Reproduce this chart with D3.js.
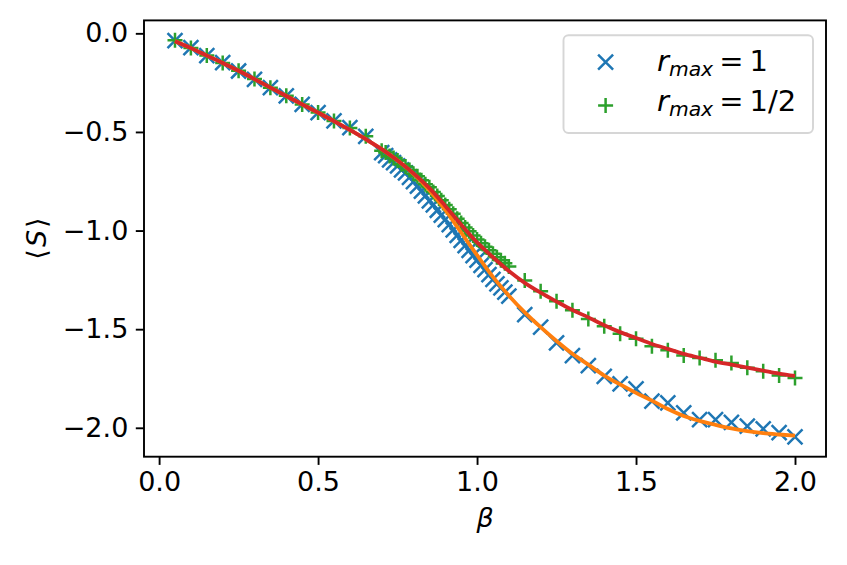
<!DOCTYPE html>
<html>
<head>
<meta charset="utf-8">
<script src="https://cdn.jsdelivr.net/npm/d3@7"></script>
<style>
  body { margin: 0; background: #fff; }
  svg { display: block; font-family: "DejaVu Sans", sans-serif; }
</style>
</head>
<body>
<svg id="chart" width="847" height="565"></svg>
<script>
// beta grid of the measured points
var betaLow = [0.05, 0.10, 0.15, 0.20, 0.25, 0.30, 0.35, 0.40, 0.45, 0.50, 0.55, 0.60, 0.65];
var betaDense = [0.7000, 0.7125, 0.7250, 0.7375, 0.7500, 0.7625, 0.7750, 0.7875, 0.8000, 0.8125,
                 0.8250, 0.8375, 0.8500, 0.8625, 0.8750, 0.8875, 0.9000, 0.9125, 0.9250, 0.9375,
                 0.9500, 0.9625, 0.9750, 0.9875, 1.0000, 1.0125, 1.0250, 1.0375, 1.0500, 1.0625,
                 1.0750, 1.0875, 1.1000];
var betaHigh = [1.15, 1.20, 1.25, 1.30, 1.35, 1.40, 1.45, 1.50, 1.55, 1.60,
                1.65, 1.70, 1.75, 1.80, 1.85, 1.90, 1.95, 2.00];

// r_max = 1 (blue x)
var s1Low = [-0.037, -0.073, -0.113, -0.149, -0.191, -0.233, -0.275, -0.317, -0.360, -0.402, -0.444, -0.478, -0.523];
var s1Dense = [-0.605, -0.620, -0.642, -0.655, -0.672, -0.692, -0.708, -0.730, -0.752, -0.775,
               -0.800, -0.824, -0.850, -0.870, -0.897, -0.922, -0.945, -0.970, -0.996, -1.024,
               -1.050, -1.076, -1.100, -1.127, -1.150, -1.176, -1.198, -1.223, -1.248, -1.270,
               -1.290, -1.312, -1.332];
var s1High = [-1.426, -1.489, -1.570, -1.634, -1.685, -1.739, -1.777, -1.803, -1.865, -1.874,
              -1.924, -1.958, -1.958, -1.972, -1.992, -2.005, -2.025, -2.046];

// r_max = 1/2 (green +)
var s2Low = [-0.035, -0.074, -0.112, -0.150, -0.190, -0.232, -0.276, -0.316, -0.361, -0.401, -0.445, -0.480, -0.522];
var s2Dense = [-0.595, -0.604, -0.622, -0.632, -0.645, -0.664, -0.675, -0.693, -0.712, -0.725,
               -0.745, -0.765, -0.780, -0.805, -0.825, -0.846, -0.870, -0.892, -0.915, -0.940,
               -0.962, -0.984, -1.003, -1.025, -1.045, -1.064, -1.082, -1.100, -1.118, -1.135,
               -1.150, -1.166, -1.182];
var s2High = [-1.253, -1.308, -1.359, -1.404, -1.448, -1.485, -1.523, -1.549, -1.587, -1.607,
              -1.634, -1.646, -1.658, -1.671, -1.696, -1.713, -1.735, -1.747];

// fitted curves
var fitBeta = [0.05, 0.10, 0.15, 0.20, 0.25, 0.30, 0.35, 0.40, 0.45, 0.50, 0.55, 0.60, 0.65,
               0.70, 0.75, 0.80, 0.85, 0.90, 0.95, 1.00, 1.05, 1.10, 1.15, 1.20, 1.25, 1.30,
               1.35, 1.40, 1.45, 1.50, 1.55, 1.60, 1.65, 1.70, 1.75, 1.80, 1.85, 1.90, 1.95, 2.00];
var fit1 = [-0.040, -0.075, -0.113, -0.150, -0.190, -0.232, -0.275, -0.318, -0.360, -0.402, -0.445, -0.490, -0.537,
            -0.587, -0.645, -0.712, -0.795, -0.895, -1.010, -1.125, -1.235, -1.330, -1.415, -1.490, -1.560, -1.625,
            -1.680, -1.735, -1.780, -1.823, -1.862, -1.905, -1.940, -1.965, -1.985, -2.003, -2.017, -2.027, -2.034, -2.040];
var fit2 = [-0.040, -0.075, -0.113, -0.150, -0.190, -0.232, -0.275, -0.318, -0.360, -0.402, -0.445, -0.490, -0.537,
            -0.587, -0.645, -0.710, -0.785, -0.875, -0.970, -1.060, -1.135, -1.205, -1.265, -1.315, -1.360, -1.403,
            -1.440, -1.480, -1.515, -1.545, -1.575, -1.600, -1.625, -1.645, -1.665, -1.680, -1.695, -1.710, -1.725, -1.737];

var xTicks = [0, 0.5, 1.0, 1.5, 2.0];
var yTicks = [0, -0.5, -1.0, -1.5, -2.0];

var C = {blue: "#1f77b4", orange: "#ff7f0e", green: "#2ca02c", red: "#d62728"};
var fs = 27, legFs = 29, tick = 8.2;

var svg = d3.select("#chart");
var W = 847, H = 565;
var m = {left: 144, right: 21, top: 20.4, bottom: 108.3};

var zip = function(xs, ys){ return xs.map(function(x, i){ return [x, ys[i]]; }); };
var betaAll = betaLow.concat(betaDense, betaHigh);
var pts1 = zip(betaAll, s1Low.concat(s1Dense, s1High));
var pts2 = zip(betaAll, s2Low.concat(s2Dense, s2High));
var line1 = zip(fitBeta, fit1), line2 = zip(fitBeta, fit2);

// matplotlib-like 5% margins
var pad = function(ext){ var d = (ext[1] - ext[0]) * 0.05; return [ext[0] - d, ext[1] + d]; };
var allX = betaAll.concat(fitBeta);
var allY = s1Low.concat(s1Dense, s1High, s2Low, s2Dense, s2High, fit1, fit2);

var x = d3.scaleLinear().domain(pad(d3.extent(allX))).range([m.left, W - m.right]);
var y = d3.scaleLinear().domain(pad(d3.extent(allY))).range([H - m.bottom, m.top]);

var fmt = d3.format(".1f");

var gx = svg.append("g")
    .attr("transform", "translate(0," + (H - m.bottom) + ")")
    .call(d3.axisBottom(x).tickValues(xTicks).tickFormat(fmt).tickSize(tick).tickPadding(7.3));
var gy = svg.append("g")
    .attr("transform", "translate(" + m.left + ",0)")
    .call(d3.axisLeft(y).tickValues(yTicks).tickFormat(fmt).tickSize(tick).tickPadding(7.5));

[gx, gy].forEach(function(g){
    g.select(".domain").remove();
    g.selectAll("line").attr("stroke", "#000").attr("stroke-width", 1.9);
    g.selectAll("text").attr("font-size", fs).attr("fill", "#000")
        .attr("font-family", "DejaVu Sans");
});

var plot = svg.append("g");

var half = 7.5, mew = 2.5;
var crossPath = function(cx, cy){
    return "M" + (cx - half) + "," + (cy - half) + "L" + (cx + half) + "," + (cy + half) +
           "M" + (cx - half) + "," + (cy + half) + "L" + (cx + half) + "," + (cy - half);
};
var plusPath = function(cx, cy){
    return "M" + (cx - half) + "," + cy + "L" + (cx + half) + "," + cy +
           "M" + cx + "," + (cy - half) + "L" + cx + "," + (cy + half);
};

plot.selectAll("path.cross")
    .data(pts1)
    .enter()
    .append("path")
    .attr("class", "cross")
    .attr("d", function(d){ return crossPath(x(d[0]), y(d[1])); })
    .attr("stroke", C.blue).attr("stroke-width", mew).attr("fill", "none");

plot.selectAll("path.plus")
    .data(pts2)
    .enter()
    .append("path")
    .attr("class", "plus")
    .attr("d", function(d){ return plusPath(x(d[0]), y(d[1])); })
    .attr("stroke", C.green).attr("stroke-width", mew).attr("fill", "none");

var lineGen = d3.line()
    .x(function(d){ return x(d[0]); })
    .y(function(d){ return y(d[1]); })
    .curve(d3.curveMonotoneX);

plot.append("path").datum(line1).attr("d", lineGen)
    .attr("fill", "none").attr("stroke", C.orange).attr("stroke-width", 3.8);
plot.append("path").datum(line2).attr("d", lineGen)
    .attr("fill", "none").attr("stroke", C.red).attr("stroke-width", 3.8);

// frame
svg.append("rect")
    .attr("x", m.left).attr("y", m.top)
    .attr("width", W - m.left - m.right).attr("height", H - m.top - m.bottom)
    .attr("fill", "none").attr("stroke", "#000").attr("stroke-width", 1.9);

// axis labels
svg.append("text")
    .attr("x", (m.left + W - m.right) / 2).attr("y", 527)
    .attr("text-anchor", "middle").attr("font-size", fs)
    .attr("font-style", "italic").text("β");

var yl = svg.append("text")
    .attr("transform", "translate(46," + ((m.top + H - m.bottom) / 2) + ") rotate(-90)")
    .attr("text-anchor", "middle").attr("font-size", fs);
yl.append("tspan").text("⟨");
yl.append("tspan").attr("font-style", "italic").attr("dx", 2).text("S");
yl.append("tspan").attr("dx", 2).text("⟩");

// legend
var leg = svg.append("g");
leg.append("rect")
    .attr("x", 563.5).attr("y", 35.3).attr("width", 249.5).attr("height", 97.7)
    .attr("rx", 5).attr("ry", 5)
    .attr("fill", "#fff").attr("fill-opacity", 0.8)
    .attr("stroke", "#d6d6d6").attr("stroke-width", 1.9);

var legItems = [
    {sym: "cross", color: C.blue, val: "1", cy: 62.2, base: 71},
    {sym: "plus", color: C.green, val: "1/2", cy: 105.5, base: 111}
];
legItems.forEach(function(it){
    var d = it.sym == "cross" ? crossPath(605.6, it.cy) : plusPath(605.6, it.cy);
    leg.append("path").attr("d", d).attr("stroke", it.color)
        .attr("stroke-width", mew).attr("fill", "none");

    var t = leg.append("text").attr("x", 657).attr("y", it.base).attr("font-size", legFs);
    t.append("tspan").attr("font-style", "italic").text("r");
    t.append("tspan").attr("font-style", "italic").attr("font-size", legFs * 0.7)
        .attr("dy", 5).text("max");
    t.append("tspan").attr("dy", -5).attr("dx", 6).text("=");
    t.append("tspan").attr("dx", 6).text(it.val);
});
</script>
</body>
</html>
